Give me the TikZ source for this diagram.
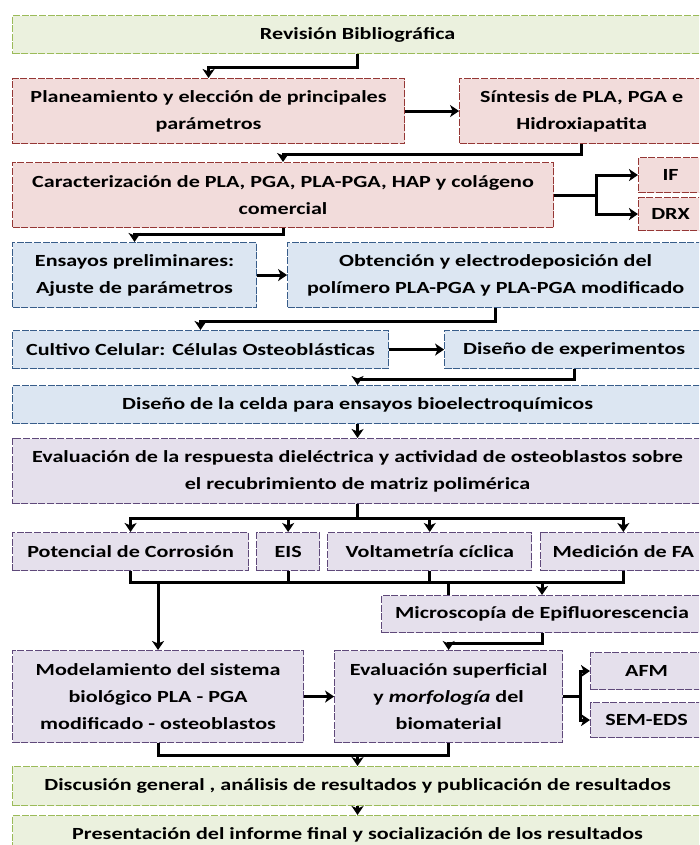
\documentclass[tikz,border=0pt]{standalone}
\usepackage{fontspec}
\setmainfont{Carlito}[FakeStretch=1.3]
\usepackage{xcolor}
\usepackage{tikz}
\usetikzlibrary{arrows.meta, positioning}
\definecolor{revgreen}{RGB}{155, 187, 89}
\definecolor{revgreenfill}{RGB}{235, 241, 222}
\definecolor{synthred}{RGB}{149, 55, 53}
\definecolor{synthredfill}{RGB}{242, 220, 219}
\definecolor{cellblue}{RGB}{56, 93, 138}
\definecolor{cellbluefill}{RGB}{220, 230, 242}
\definecolor{evalpurple}{RGB}{95, 73, 122}
\definecolor{evalpurplefill}{RGB}{229, 224, 236}

\begin{document}
\begin{tikzpicture}[
    x=1pt, y=-1pt,
    stage/.style={draw=#1, fill=#1fill, line width=1.1pt, dash pattern=on 7pt off 1.6pt,
                  inner sep=0pt, align=center, text=black,
                  font=\fontsize{17}{27}\selectfont\bfseries},
    greenbox/.style={stage=revgreen, anchor=north west},
    redbox/.style={stage=synthred, anchor=north west},
    bluebox/.style={stage=cellblue, anchor=north west},
    purplebox/.style={stage=evalpurple, anchor=north west},
    flow/.style={line width=3pt, -{Stealth[length=9pt, width=12pt, inset=2.5pt]}},
    link/.style={line width=3pt}
]
    \useasboundingbox (0,0) rectangle (699,845);
    \clip (0,0) rectangle (699,845);

    \node[greenbox, minimum width=690pt, minimum height=38pt] (rev) at (12,15) {Revisión Bibliográfica};

    \node[redbox, minimum width=392pt, minimum height=65pt] (plan) at (12,78)
        {Planeamiento y elección de principales\\parámetros};
    \node[redbox, anchor=west, minimum width=244pt, minimum height=65pt, right=54pt of plan] (sint)
        {Síntesis de PLA, PGA e\\Hidroxiapatita};
    \node[redbox, minimum width=541pt, minimum height=65pt] (carac) at (12,162)
        {Caracterización de PLA, PGA, PLA-PGA, HAP y colágeno\\comercial};
    \node[redbox, minimum width=64pt, minimum height=35pt] (if) at (638,157) {IF};
    \node[redbox, minimum width=64pt, minimum height=33pt] (drx) at (638,197) {DRX};

    \node[bluebox, minimum width=244pt, minimum height=65pt] (ensayos) at (12,242)
        {Ensayos preliminares:\\Ajuste de parámetros};
    \node[bluebox, anchor=west, minimum width=416pt, minimum height=65pt, right=30pt of ensayos] (obten)
        {Obtención y electrodeposición del\\polímero PLA-PGA y PLA-PGA modificado};
    \node[bluebox, minimum width=376pt, minimum height=38pt] (cultivo) at (12,330)
        {Cultivo Celular: Células Osteoblásticas};
    \node[bluebox, anchor=west, minimum width=259pt, minimum height=38pt, right=55pt of cultivo] (disexp)
        {Diseño de experimentos};
    \node[bluebox, minimum width=690pt, minimum height=38pt] (celda) at (12,385)
        {Diseño de la celda para ensayos bioelectroquímicos};

    \node[purplebox, minimum width=690pt, minimum height=65pt] (evalresp) at (12,438)
        {Evaluación de la respuesta dieléctrica y actividad de osteoblastos sobre\\el recubrimiento de matriz polimérica};
    \node[purplebox, minimum width=236pt, minimum height=38pt] (corr) at (12,532) {Potencial de Corrosión};
    \node[purplebox, anchor=west, minimum width=63pt, minimum height=38pt, right=7pt of corr] (eis) {EIS};
    \node[purplebox, anchor=west, minimum width=204pt, minimum height=38pt, right=7pt of eis] (volt) {Voltametría cíclica};
    \node[purplebox, anchor=west, minimum width=165pt, minimum height=38pt, right=8pt of volt] (fa) {Medición de FA};
    \node[purplebox, minimum width=321pt, minimum height=37pt] (micro) at (381,595)
        {Microscopía de Epifluorescencia};
    \node[purplebox, minimum width=291pt, minimum height=92pt] (model) at (12,650)
        {Modelamiento del sistema\\biológico PLA - PGA\\modificado - osteoblastos};
    \node[purplebox, anchor=west, minimum width=228pt, minimum height=92pt, right=30pt of model] (superf)
        {Evaluación superficial\\y \textit{morfología} del\\biomaterial};
    \node[purplebox, minimum width=112pt, minimum height=37pt] (afm) at (590,652) {AFM};
    \node[purplebox, minimum width=112pt, minimum height=35pt] (sem) at (590,702) {SEM-EDS};

    \node[greenbox, minimum width=690pt, minimum height=39pt] (discus) at (12,766)
        {Discusión general , análisis de resultados y publicación de resultados};
    \node[greenbox, minimum width=690pt, minimum height=38pt] (inform) at (12,815)
        {Presentación del informe final y socialización de los resultados};

    \coordinate (bus) at (0,582);
    \coordinate (low) at (0,755);

    \draw[flow] (rev.south) -- ++(0,13) -| (plan.north);
    \draw[flow] (plan.east) -- (sint.west);
    \draw[flow] (sint.south) -- ++(0,10) -| (carac.north);
    \draw[link] (carac.east) -- ++(42,0) coordinate (split);
    \draw[flow] (split) |- (if.west);
    \draw[flow] (split) |- (drx.west);
    \draw[flow] (carac.south) -- ++(0,6) -| (ensayos.north);
    \draw[flow] (ensayos.east) -- (obten.west);
    \draw[flow] (obten.south) -- ++(0,13) -| (cultivo.north);
    \draw[flow] (cultivo.east) -- (disexp.west);
    \draw[flow] (disexp.south) -- ++(0,10) -| (celda.north);
    \draw[flow] (celda.south) -- (evalresp.north);
    \draw[flow] (evalresp.south) -- ++(0,14) -| (corr.north);
    \draw[flow] (evalresp.south) -- ++(0,14) -| (eis.north);
    \draw[flow] (evalresp.south) -- ++(0,14) -| (volt.north);
    \draw[flow] (evalresp.south) -- ++(0,14) -| (fa.north);
    \draw[link] (corr.south) |- (bus -| fa.south) -- (fa.south);
    \draw[link] (eis.south) -- (eis.south |- bus);
    \draw[link] (volt.south) -- (volt.south |- bus);
    \draw[flow] (model.north |- bus) -- (model.north);
    \draw[link] (superf.north |- bus) -- (superf.north |- micro.north);
    \draw[flow] (micro.north |- bus) -- (micro.north);
    \draw[flow] (micro.south) -- ++(0,10) -| (superf.north);
    \draw[flow] (model.east) -- (superf.west);
    \draw[link] (superf.east) -- ++(17,0) coordinate (fork);
    \draw[flow] (fork) |- (afm.west);
    \draw[flow] (fork) |- (sem.west);
    \draw[link] (model.south) |- (superf.south |- low) -- (superf.south);
    \draw[flow] (discus.north |- low) -- (discus.north);
    \draw[flow] (discus.south) -- (inform.north);
\end{tikzpicture}
\end{document}
